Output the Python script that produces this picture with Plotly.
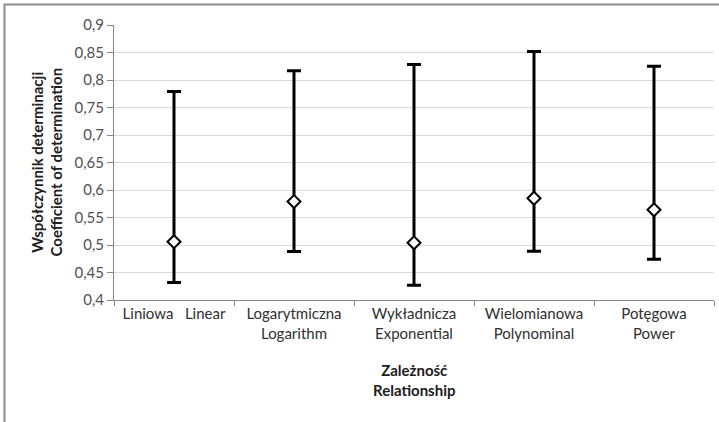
import plotly.graph_objects as go

categories = ["Liniowa\u00a0\u00a0\u00a0Linear", "Logarytmiczna<br>Logarithm", "Wykładnicza<br>Exponential",
              "Wielomianowa<br>Polynominal", "Potęgowa<br>Power"]
mean_vals = [0.506, 0.579, 0.504, 0.585, 0.564]
min_vals = [0.432, 0.488, 0.427, 0.4885, 0.474]
max_vals = [0.779, 0.817, 0.828, 0.852, 0.825]
y_tickvals = [0.4, 0.45, 0.5, 0.55, 0.6, 0.65, 0.7, 0.75, 0.8, 0.85, 0.9]
y_ticktext = ["0,4", "0,45", "0,5", "0,55", "0,6", "0,65", "0,7", "0,75", "0,8", "0,85", "0,9"]

up = [mx - m for mx, m in zip(max_vals, mean_vals)]
down = [m - mn for m, mn in zip(mean_vals, min_vals)]

FONT = "Lato"
L, R, T, B = 114, 5, 25, 122
PW = 719 - L - R
PH = 422 - T - B

fig = go.Figure()
fig.add_trace(go.Scatter(
    x=categories, y=mean_vals, mode="markers",
    marker=dict(symbol="diamond", size=10, color="white", line=dict(color="black", width=2)),
    error_y=dict(type="data", symmetric=False, array=up, arrayminus=down,
                 color="black", thickness=3, width=7),
    showlegend=False,
))

fig.update_layout(
    width=719, height=422,
    margin=dict(l=L, r=R, t=T, b=B, autoexpand=False),
    paper_bgcolor="white", plot_bgcolor="white",
    font=dict(family=FONT, size=14, color="#404040"),
    xaxis=dict(type="category", showline=True, linecolor="#868686", linewidth=1,
               ticks="outside", tickson="boundaries", ticklen=5, tickcolor="#868686",
               showgrid=False, tickfont=dict(size=15, color="#303030"),
               range=[-0.5, 4.5], automargin=False),
    yaxis=dict(range=[0.4, 0.9], tickvals=y_tickvals, ticktext=y_ticktext,
               showline=True, linecolor="#868686", linewidth=1,
               ticks="outside", ticklen=6, tickcolor="#868686",
               showgrid=True, gridcolor="#d9d9d9", gridwidth=1,
               tickfont=dict(size=15, color="#505050"), zeroline=False, automargin=False),
    shapes=[dict(type="rect", xref="paper", yref="paper",
                 x0=(4.5 - L) / PW, x1=1.2, y0=-1, y1=1 + (T - 4.5) / PH,
                 line=dict(color="#8c8c8c", width=2), fillcolor="rgba(0,0,0,0)", layer="below")],
    annotations=[
        dict(text="<b>Współczynnik determinacji<br>Coefficient of determination</b>",
             xref="paper", yref="paper", x=(46 - L) / PW, y=0.5, textangle=-90,
             showarrow=False, xanchor="center", yanchor="middle",
             font=dict(size=15, color="#202020", family=FONT)),
        dict(text="<b>Zależność<br>Relationship</b>",
             xref="paper", yref="paper", x=0.5, y=(300 - 380) / PH,
             showarrow=False, xanchor="center", yanchor="middle",
             font=dict(size=15, color="#202020", family=FONT)),
    ],
)

fig.write_html("out.html", config={"displayModeBar": False},
               post_script="document.body.style.margin='0';document.body.style.overflow='hidden';")
